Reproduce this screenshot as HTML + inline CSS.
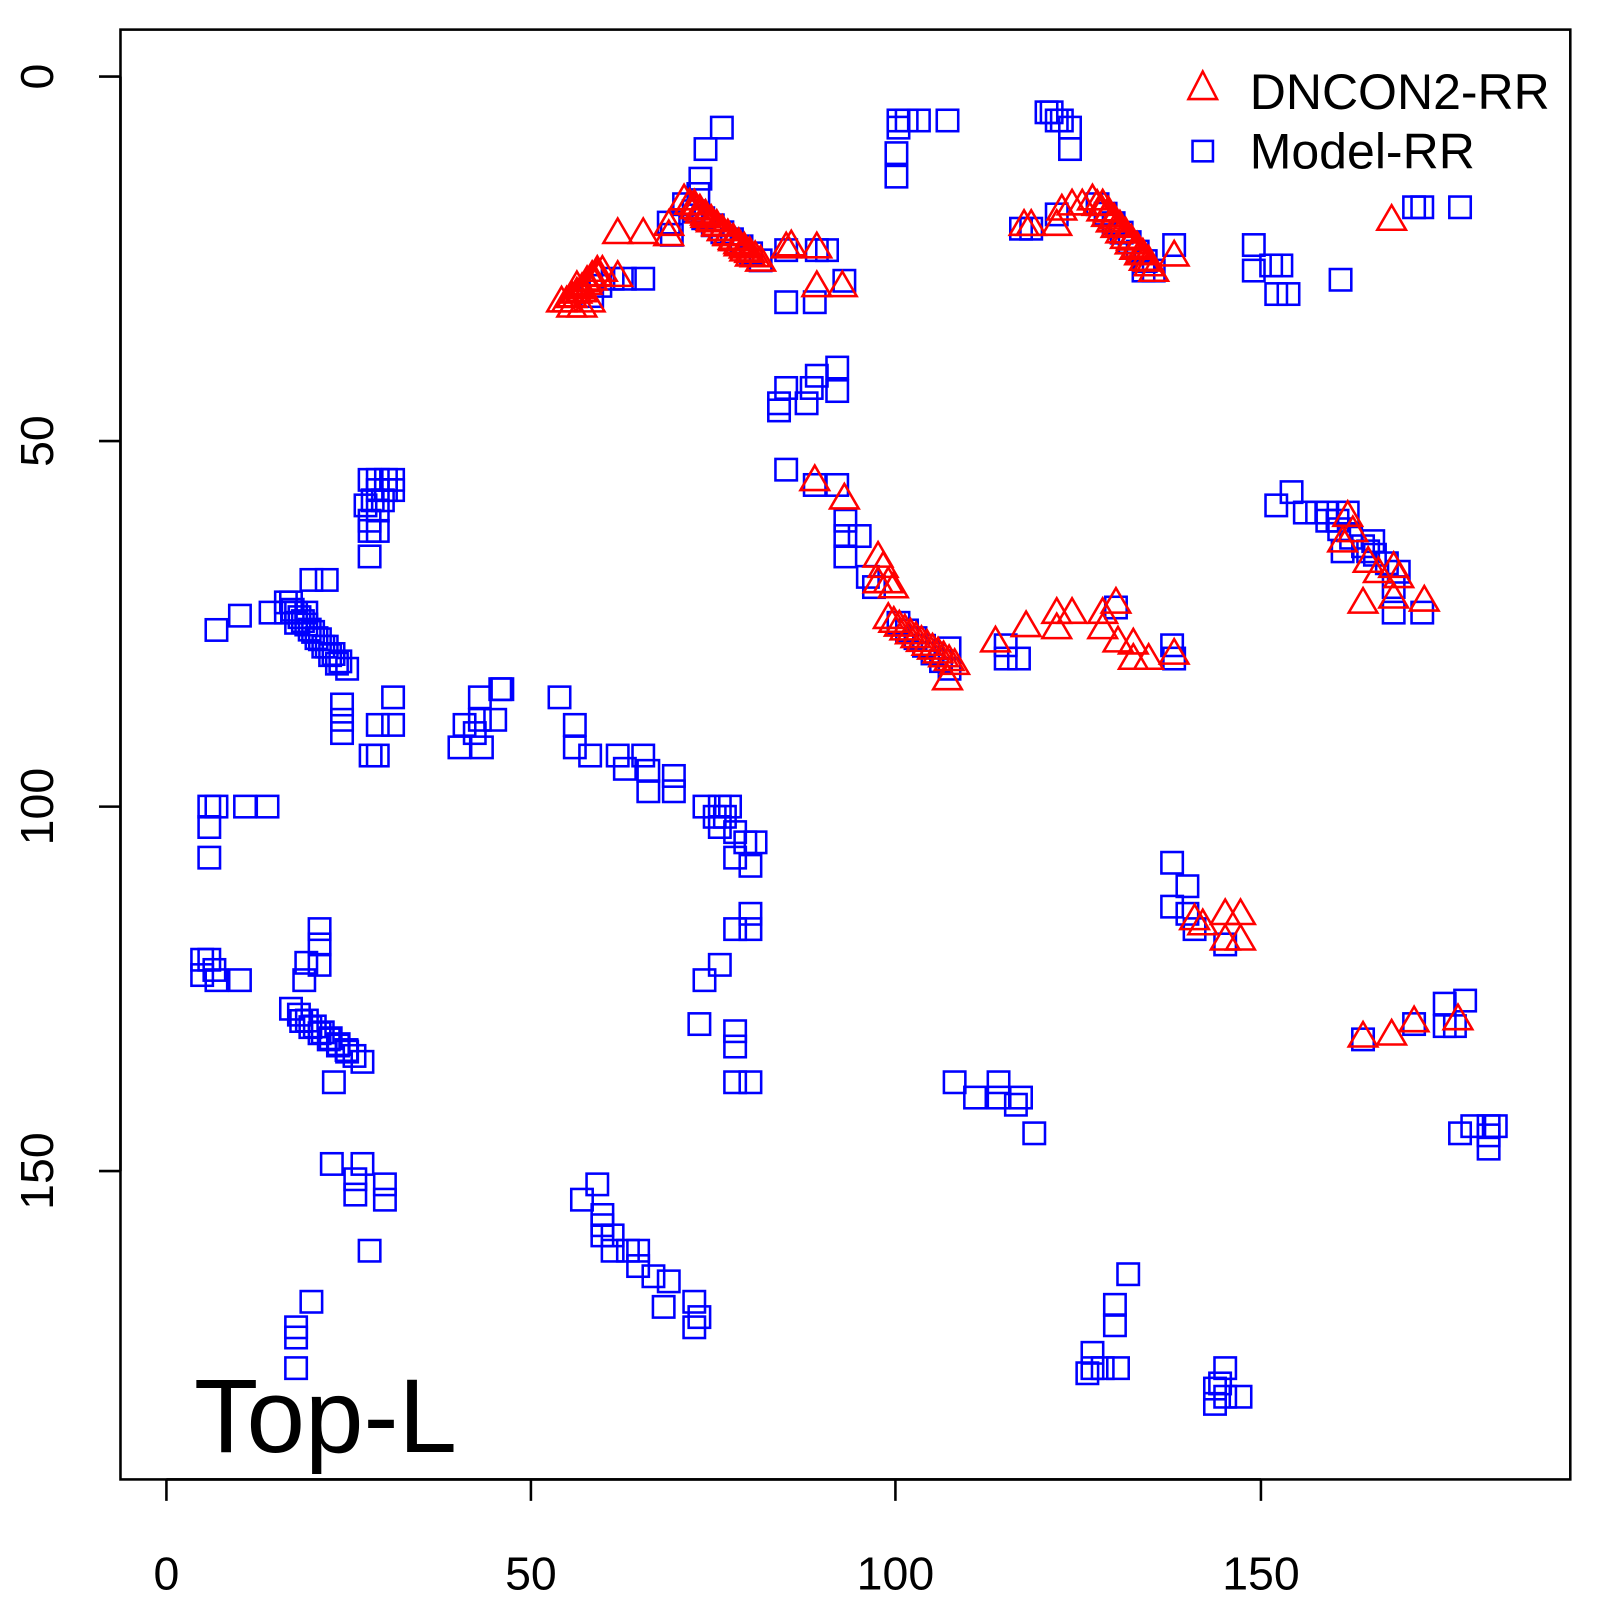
<!DOCTYPE html>
<html><head><meta charset="utf-8"><style>
html,body{margin:0;padding:0;background:#fff}
svg text{font-family:"Liberation Sans",sans-serif}
</style></head><body>
<svg id="s" width="1600" height="1600" xmlns="http://www.w3.org/2000/svg">
<g transform="scale(1.021)">
<rect x="118" y="29" width="1420" height="1420" fill="none" stroke="#000" stroke-width="2.5"/>
<g stroke="#000" stroke-width="2.5">
<line x1="163" y1="1449" x2="1235" y2="1449"/>
<line x1="163" y1="1449" x2="163" y2="1470"/><line x1="520" y1="1449" x2="520" y2="1470"/>
<line x1="877" y1="1449" x2="877" y2="1470"/><line x1="1235" y1="1449" x2="1235" y2="1470"/>
<line x1="118" y1="75" x2="118" y2="1147"/>
<line x1="118" y1="75" x2="97" y2="75"/><line x1="118" y1="432" x2="97" y2="432"/>
<line x1="118" y1="790" x2="97" y2="790"/><line x1="118" y1="1147" x2="97" y2="1147"/>
</g>
<g font-size="45.5" text-anchor="middle" fill="#000">
<text x="163" y="1557">0</text><text x="520" y="1557">50</text><text x="877" y="1557">100</text><text x="1235" y="1557">150</text>
<text transform="translate(52,75) rotate(-90)">0</text>
<text transform="translate(52,432) rotate(-90)">50</text>
<text transform="translate(52,790) rotate(-90)">100</text>
<text transform="translate(52,1147) rotate(-90)">150</text>
</g>
<text x="190" y="1422" font-size="103">Top-L</text>
<g id="pts" fill="none" stroke-width="2.5"></g>
<polygon points="1178,70 1164,97 1192,97" fill="none" stroke="#f00" stroke-width="2.5"/>
<rect x="1168" y="138" width="20" height="20" fill="none" stroke="#00f" stroke-width="2.5"/>
<text x="1224" y="107" font-size="49">DNCON2-RR</text>
<text x="1224" y="165" font-size="49">Model-RR</text>
</g>
</svg>
<script>
var sq=[[880,118],[880,125],[888,118],[900,118],[928,118],[878,150],[878,173],[707,125],[691,146],[686,175],[684,190],
[655,218],[658,230],[630,273],[612,273],[600,273],[588,280],[580,290],[770,296],[798,296],[827,275],[810,245],[770,245],[800,245],
[1030,110],[1040,118],[1048,125],[1048,146],[1025,110],[1035,118],[1000,224],[1010,224],[1035,210],[1150,240],[1120,265],
[1228,240],[1228,265],[1245,260],[1255,260],[1250,288],[1262,288],[1313,274],[1385,203],[1393,203],[1430,203],
[770,380],[763,395],[763,402],[790,395],[800,368],[820,360],[820,383],[795,380],[770,460],[798,475],[820,475],[828,510],[842,525],[828,545],[850,565],[856,575],[828,525],
[985,645],[998,645],[985,632],[1148,632],[1150,645],[1093,595],[930,635],
[1250,495],[1265,482],[1278,502],[1290,502],[1300,502],[1310,510],[1320,502],[1315,540],[1340,540],[1345,530],[1365,575],[1365,600],[1393,600],
[362,470],[370,470],[378,470],[385,470],[370,480],[378,480],[385,480],[365,490],[375,490],[358,495],[370,500],[362,510],[362,520],[370,520],[362,545],
[320,568],[305,568],[285,590],[265,600],[235,603],[212,617],[280,600],[290,610],[300,600],
[335,690],[335,718],[335,705],[385,683],[370,710],[385,710],[363,740],[370,740],
[450,732],[472,732],[455,710],[470,705],[470,683],[490,675],[485,705],[492,675],[465,718],
[548,683],[563,710],[563,732],[578,740],[605,740],[612,753],[630,740],[635,755],[635,775],[660,760],[660,775],[690,790],[705,790],[700,800],[705,810],[720,815],[730,825],[740,825],[720,840],[735,848],[710,800],[715,790],
[205,790],[212,790],[240,790],[262,790],[205,810],[205,840],
[735,895],[735,910],[720,910],[705,945],[690,960],[685,1003],[720,1010],[720,1025],[720,1060],[735,1060],
[198,940],[205,940],[210,950],[212,960],[235,960],[198,955],[300,943],[298,960],[313,910],[313,925],[313,945],
[327,1060],[325,1140],[355,1140],[348,1155],[348,1170],[377,1160],[377,1175],[362,1225],
[585,1160],[570,1175],[590,1190],[590,1210],[600,1225],[615,1225],[625,1225],[625,1240],[640,1250],[655,1255],[650,1280],[680,1275],[680,1300],[685,1290],[590,1200],[600,1210],
[305,1275],[290,1300],[290,1310],[290,1340],
[935,1060],[955,1075],[978,1060],[978,1075],[995,1082],[1000,1075],[1013,1110],
[1148,845],[1163,868],[1148,888],[1163,895],[1170,910],[1200,925],
[1415,983],[1435,980],[1415,1005],[1425,1005],[1385,1003],[1335,1018],
[1430,1110],[1442,1103],[1458,1103],[1458,1125],[1465,1103],[1458,1112],
[1105,1248],[1092,1278],[1092,1298],[1070,1325],[1070,1340],[1095,1340],[1065,1345],[1080,1340],
[1200,1340],[1195,1355],[1190,1375],[1215,1368],[1200,1368],[1190,1360]];
function line(a,b,n,arr){for(var i=0;i<=n;i++){arr.push([a[0]+(b[0]-a[0])*i/n,a[1]+(b[1]-a[1])*i/n]);}}
line([280,590],[340,655],9,sq);line([290,600],[330,650],6,sq);
line([285,988],[355,1040],9,sq);line([295,1000],[340,1030],5,sq);
line([670,200],[745,255],8,sq);line([1075,200],[1130,265],7,sq);line([880,610],[930,655],6,sq);
line([1300,510],[1370,560],6,sq);
var tr=[[550,295],[560,290],[565,280],[570,285],[575,275],[580,270],[585,265],[560,300],[570,300],[578,295],[605,270],[605,228],[630,228],[655,220],[655,230],
[770,242],[775,240],[800,242],[800,280],[825,280],[798,470],[827,488],[860,545],[865,555],[870,570],[860,570],[875,575],[928,665],
[975,628],[1005,613],[1035,600],[1050,600],[1035,615],[1080,600],[1093,590],[1080,615],[1095,628],[1110,630],[1110,645],[1125,645],[1150,640],
[1003,220],[1010,220],[1035,220],[1040,205],[1050,200],[1060,200],[1150,250],[1363,215],
[1320,505],[1315,530],[1325,520],[1340,550],[1350,560],[1365,555],[1370,565],[1365,585],[1335,590],[1395,588],
[1170,900],[1178,905],[1200,895],[1215,895],[1200,920],[1215,920],[1335,1015],[1363,1013],[1385,1000],[1428,998]];
line([555,295],[590,265],7,tr);line([670,195],[745,255],14,tr);line([680,200],[735,250],10,tr);
line([870,605],[935,650],12,tr);line([1070,195],[1130,265],13,tr);line([1080,200],[1125,255],8,tr);
var g=document.getElementById('pts'),h='';
sq.forEach(function(p){h+='<rect x="'+(p[0]-10.5)+'" y="'+(p[1]-10.5)+'" width="21" height="21" stroke="#00f"/>';});
tr.forEach(function(p){h+='<polygon points="'+p[0]+','+(p[1]-14)+' '+(p[0]-14)+','+(p[1]+10)+' '+(p[0]+14)+','+(p[1]+10)+'" stroke="#f00"/>';});
g.innerHTML=h;
</script>
</body></html>
